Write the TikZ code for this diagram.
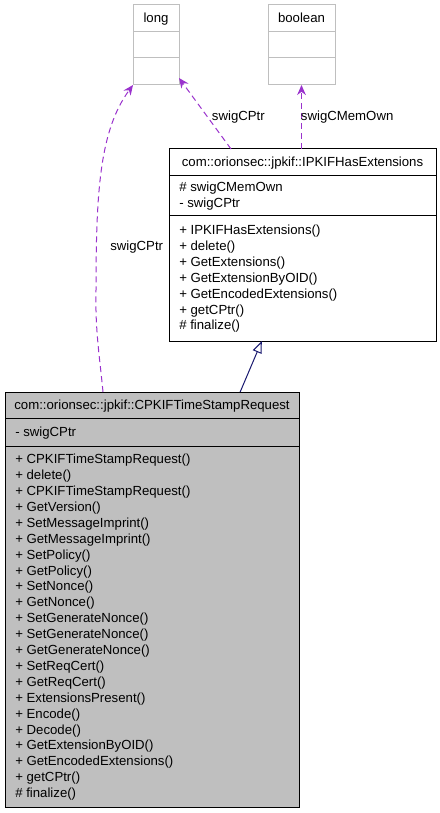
\documentclass[tikz,border=0pt]{standalone}
\usepackage{fontspec}
\setmainfont{Liberation Sans}
\usetikzlibrary{arrows.meta,calc}
\definecolor{edgepurple}{HTML}{9A32CD}
\definecolor{edgenavy}{HTML}{191970}
\definecolor{boxgray}{HTML}{BFBFBF}
\begin{document}
\begin{tikzpicture}[x=0.75pt,y=-0.75pt,
  font=\fontsize{9.9}{11.9}\selectfont,
  classbox/.style={draw=black, line width=0.75pt, anchor=north west, inner sep=0pt, outer sep=0pt},
  typebox/.style={draw=boxgray, line width=0.75pt, anchor=north west, inner sep=0pt, outer sep=0pt},
  divider/.style={line width=0.75pt},
  member/.style={anchor=base west, inner sep=0pt},
  titletext/.style={anchor=base, inner sep=0pt},
  reflink/.style={draw=edgepurple, line width=0.75pt, dash pattern=on 4.5pt off 3pt, -{Stealth[length=7.5pt,width=6.5pt]}},
  inherit/.style={draw=edgenavy, line width=0.75pt, -{Triangle[open,length=9pt,width=7pt]}},
  edgelabel/.style={anchor=base west, inner sep=0pt}]
\useasboundingbox (0,0) rectangle (439,813);
\fill[white] (0,0) rectangle (439,813);

% type boxes
\node[typebox, minimum width=34.5pt, minimum height=60pt] (long) at (133,5) {};
\draw[boxgray, divider] (133,32) -- (179,32);
\draw[boxgray, divider] (133,58) -- (179,58);
\node[titletext] (longt) at (156,22.5) {long};

\node[typebox, minimum width=50.25pt, minimum height=60pt] (bool) at (268,5) {};
\draw[boxgray, divider] (268,32) -- (335,32);
\draw[boxgray, divider] (268,58) -- (335,58);
\node[titletext] (boolt) at (301.5,22.5) {boolean};

% IPKIFHasExtensions
\node[classbox, fill=white, minimum width=200.25pt, minimum height=144pt] (ipkif) at (169,149) {};
\draw[divider] (169,175) -- (436,175);
\draw[divider] (169,215) -- (436,215);
\node[titletext] (ipkift) at (302.5,166.3) {com::orionsec::jpkif::IPKIFHasExtensions};
\node[member] (ia1) at (179,191.3) {\# swigCMemOwn};
\node[member] (ia2) at (179,207.2) {- swigCPtr};
\foreach \t [count=\i] in {+ IPKIFHasExtensions(), + delete(), + GetExtensions(), + GetExtensionByOID(), + GetEncodedExtensions(), + getCPtr(), \# finalize()}
  \node[member] (im\i) at (179,234.5+15.9*\i-15.9) {\t};

% CPKIFTimeStampRequest
\node[classbox, fill=boxgray, minimum width=220.5pt, minimum height=311.25pt] (cpkif) at (5,392) {};
\draw[divider] (5,418) -- (299,418);
\draw[divider] (5,446) -- (299,446);
\node[titletext] (cpkift) at (152,409.3) {com::orionsec::jpkif::CPKIFTimeStampRequest};
\node[member] (ca1) at (15,436.3) {- swigCPtr};
\foreach \t [count=\i] in {+ CPKIFTimeStampRequest(), + delete(), + CPKIFTimeStampRequest(), + GetVersion(), + SetMessageImprint(), + GetMessageImprint(), + SetPolicy(), + GetPolicy(), + SetNonce(), + GetNonce(), + SetGenerateNonce(), + SetGenerateNonce(), + GetGenerateNonce(), + SetReqCert(), + GetReqCert(), + ExtensionsPresent(), + Encode(), + Decode(), + GetExtensionByOID(), + GetEncodedExtensions(), + getCPtr(), \# finalize()}
  \node[member] (cm\i) at (15,463.7+15.9*\i-15.9) {\t};

% connectors
\coordinate (c1s) at ($(cpkif.north west)+(98,0)$);
\coordinate (c1m) at (96,290);
\draw[reflink] (c1s) .. controls (100,360) and (95,330) .. (c1m) .. controls (96,190) and (100,130) .. (long.south west);
\node[edgelabel] (l1) at (110,250) {swigCPtr};

\coordinate (c2s) at ($(ipkif.north west)+(62,0)$);
\coordinate (c2e) at ($(long.south east)+(0,-7)$);
\draw[reflink] (c2s) -- (c2e);
\node[edgelabel] (l2) at (211.7,121) {swigCPtr};

\draw[reflink] (bool.south |- ipkif.north) -- (bool.south);
\node[edgelabel] (l3) at (300.7,121) {swigCMemOwn};

\draw[inherit] (cpkif) -- (ipkif);
\end{tikzpicture}
\end{document}
